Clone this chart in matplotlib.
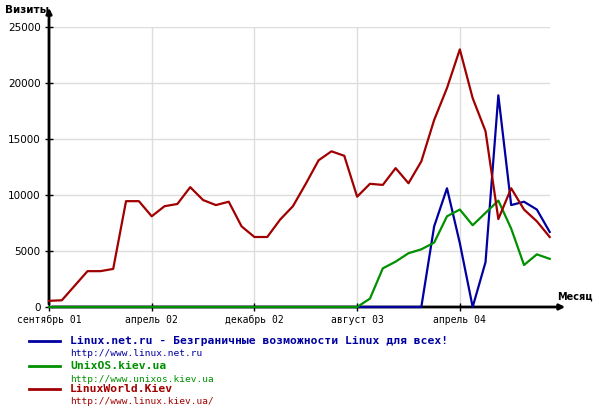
import matplotlib
matplotlib.use("Agg")
from matplotlib import pyplot as plt
from matplotlib.lines import Line2D

# monthly visits, Sep 2001 .. Dec 2004
linux_net = [0] * 30 + [7200, 10600, 5700, 0, 4000, 18900, 9100, 9400, 8700, 6700]
unixos = [0] * 25 + [750, 3450, 4050, 4800, 5150, 5750, 8100, 8700, 7300, 8400,
                     9500, 7000, 3750, 4700, 4300]
linuxworld = [550, 600, 1900, 3200, 3200, 3400, 9450, 9450, 8100, 9000,
              9200, 10700, 9550, 9100, 9400, 7200, 6250, 6250, 7800, 9000,
              11000, 13100, 13900, 13500, 9850, 11000, 10900, 12400, 11050, 13000,
              16700, 19550, 23000, 18650, 15700, 7850, 10600, 8700, 7650, 6250]

tick_pos = [0, 8, 16, 24, 32]
tick_labels = ["сентябрь 01", "апрель 02", "декабрь 02", "август 03", "апрель 04"]

names = ["Linux.net.ru - Безграничные возможности Linux для всех!",
         "UnixOS.kiev.ua", "LinuxWorld.Kiev"]
urls = ["http://www.linux.net.ru", "http://www.unixos.kiev.ua",
        "http://www.linux.kiev.ua/"]
colors = ["#0000a0", "#009000", "#a00000"]

W, H = 594, 413
fig = plt.figure(figsize=(5.94, 4.13), dpi=100)
x0, x1, ytop, ybot = 49, 549.7, 27, 307
ax = fig.add_axes([x0 / W, (H - ybot) / H, (x1 - x0) / W, (ybot - ytop) / H])

x = list(range(len(linuxworld)))
# axes with arrows (drawn under the data lines)
ax.annotate("", xy=(0, (ybot - 5) / (ybot - ytop)), xytext=(0, 0), xycoords="axes fraction",
            arrowprops=dict(arrowstyle="-|>", color="black", lw=2, mutation_scale=8),
            annotation_clip=False, zorder=2)
ax.annotate("", xy=((568 - x0) / (x1 - x0), 0), xytext=(0, 0), xycoords="axes fraction",
            arrowprops=dict(arrowstyle="-|>", color="black", lw=2, mutation_scale=8),
            annotation_clip=False, zorder=2)

ax.plot(x, linux_net, color=colors[0], lw=1.6, zorder=3, clip_on=False)
ax.plot(x, unixos, color=colors[1], lw=1.6, zorder=4, clip_on=False)
ax.plot(x, linuxworld, color=colors[2], lw=1.6, zorder=5, clip_on=False)

ax.set_xlim(0, len(x) - 1)
ax.set_ylim(0, 25000)
ax.set_xticks(tick_pos)
ax.set_xticklabels(tick_labels, family="DejaVu Sans Mono", fontsize=7)
ax.set_yticks(range(0, 25001, 5000))
ax.set_yticklabels([str(v) for v in range(0, 25001, 5000)], family="DejaVu Sans", fontsize=7.5)
ax.tick_params(direction="inout", length=6, width=1, pad=3)
ax.grid(True, color="#dddddd", lw=1)
ax.set_axisbelow(True)
for s in ax.spines.values():
    s.set_visible(False)

fig.text(5 / W, 1 - 10 / H, "Визиты", fontsize=7.5, weight="bold", va="center", ha="left")
fig.text(593 / W, 1 - 297 / H, "Месяц", fontsize=7, weight="bold", va="center", ha="right")

# legend
rows = [341, 366, 389]
for name, url, c, yy in zip(names, urls, colors, rows):
    fy = 1 - yy / H
    fig.add_artist(Line2D([29 / W, 60 / W], [fy, fy], color=c, lw=2))
    fig.text(70 / W, fy, name, color=c, fontsize=8.2, weight="bold",
             family="DejaVu Sans Mono", va="center")
    fig.text(70 / W, 1 - (yy + 13) / H, url, color=c, fontsize=6.8,
             family="DejaVu Sans Mono", va="center")

fig.savefig("out.png", dpi=100)
